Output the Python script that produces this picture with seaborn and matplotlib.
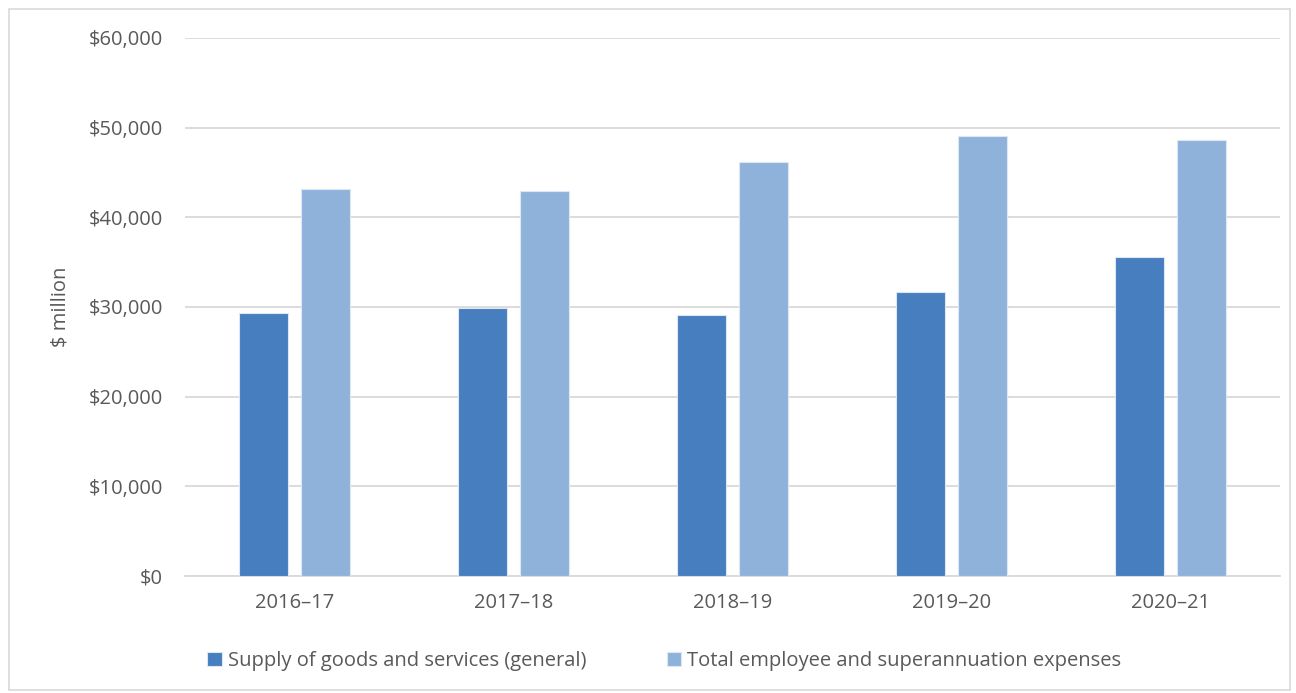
import matplotlib
matplotlib.use("Agg")
import matplotlib.pyplot as plt
import seaborn as sns
import pandas as pd
from matplotlib.patches import Rectangle

years = ["2016–17", "2017–18", "2018–19", "2019–20", "2020–21"]
supply = [29300, 29900, 29100, 31700, 35600]
employee = [43200, 42900, 46200, 49100, 48600]
series_names = ["Supply of goods and services (general)",
                "Total employee and superannuation expenses"]
yticks = [0, 10000, 20000, 30000, 40000, 50000, 60000]
ytick_labels = ["$0", "$10,000", "$20,000", "$30,000", "$40,000", "$50,000", "$60,000"]

df = pd.DataFrame({
    "year": years * 2,
    "value": supply + employee,
    "series": [series_names[0]] * len(years) + [series_names[1]] * len(years),
})

sns.set_theme(style="white")
plt.rcParams["font.family"] = ["Open Sans", "DejaVu Sans"]

FS = 14.5
fig = plt.figure(figsize=(12.96, 6.93), dpi=100)
ax = fig.add_axes([0.1427, 0.1688, 0.845, 0.7764])

palette = {series_names[0]: "#467EC0", series_names[1]: "#8FB2DA"}
sns.barplot(data=df, x="year", y="value", hue="series", order=years,
            hue_order=series_names, palette=palette, saturation=1,
            width=0.565, gap=0.21,
            edgecolor="#dde7f3", linewidth=0.8, ax=ax, legend=True, zorder=3)

ax.set_ylim(0, 60000)
ax.set_xlim(-0.5, 4.5)
ax.set_yticks(yticks)
ax.set_yticklabels(ytick_labels)
ax.yaxis.grid(True, color="#d9d9d9", linewidth=1.3, zorder=0)
ax.set_axisbelow(True)
for s in ["top", "right", "left"]:
    ax.spines[s].set_visible(False)
ax.spines["bottom"].set_color("#d9d9d9")
ax.spines["bottom"].set_linewidth(1.3)
ax.tick_params(axis="both", length=0, colors="#595959", labelsize=FS)
ax.tick_params(axis="y", pad=16)
ax.tick_params(axis="x", pad=12)
ax.set_xlabel("")
ax.set_ylabel("$ million", color="#595959", fontsize=FS, labelpad=13)

handles, labels = ax.get_legend_handles_labels()
ax.legend_.remove()
fig.legend(handles, labels, loc="center", bbox_to_anchor=(0.5125, 0.046), ncol=2,
           frameon=False, fontsize=FS, labelcolor="#595959",
           handlelength=0.7, handleheight=0.7, handletextpad=0.3,
           columnspacing=4.0)

fig.patches.append(Rectangle((9 / 1296, 3 / 693), 1281 / 1296, 681 / 693,
                             transform=fig.transFigure, fill=False,
                             edgecolor="#d9d9d9", linewidth=1.2))

fig.savefig("out.png", dpi=100)
